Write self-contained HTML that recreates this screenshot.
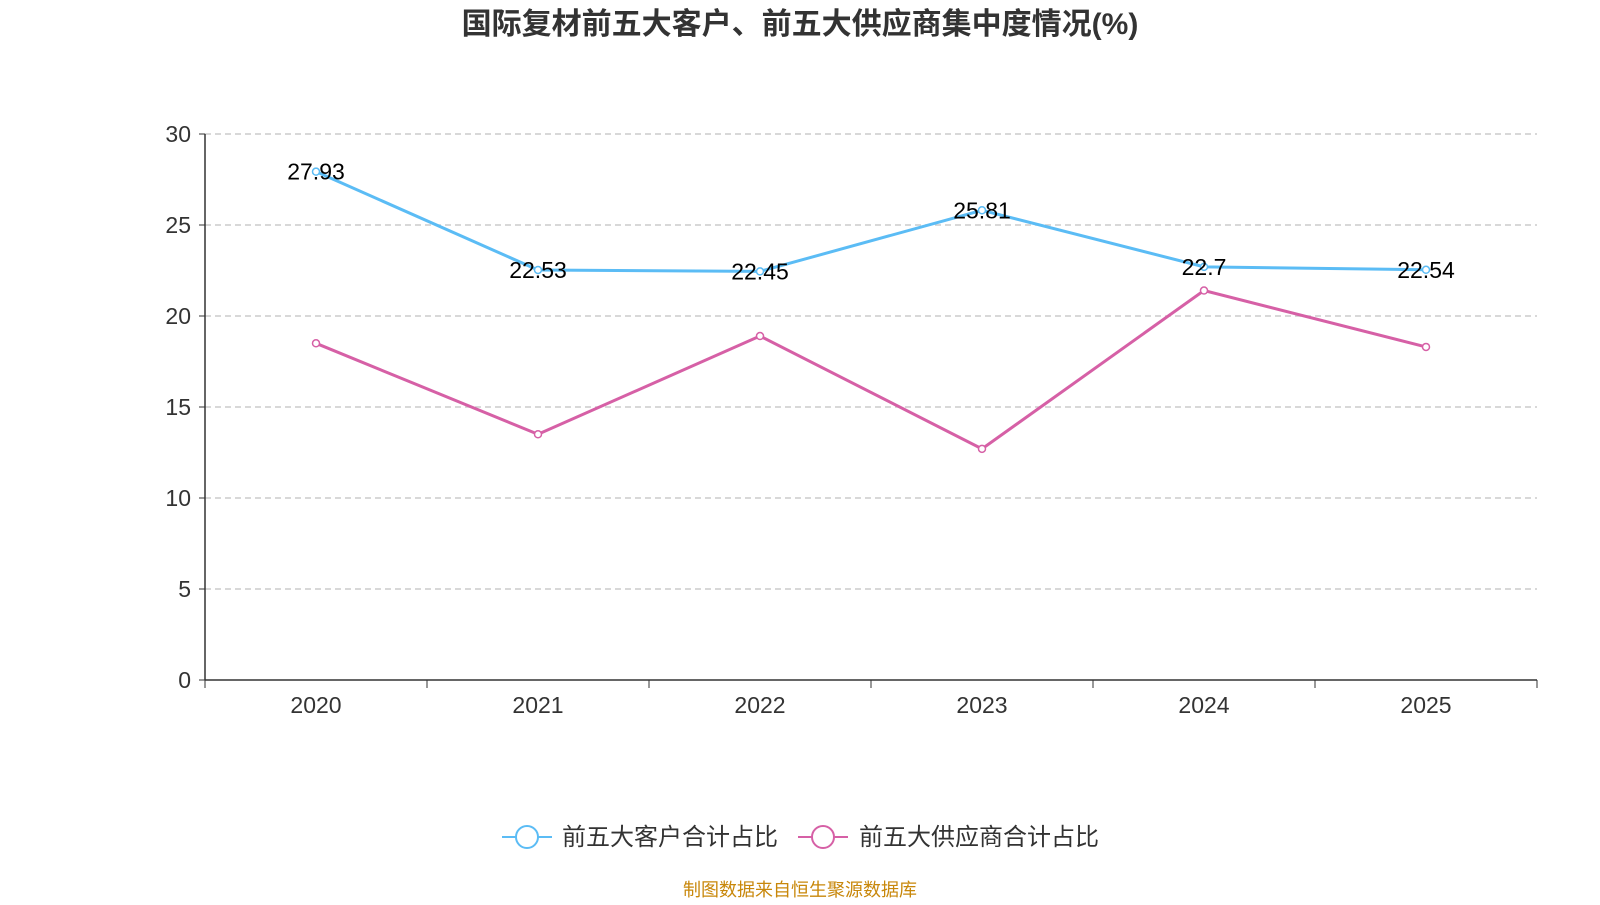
<!DOCTYPE html>
<html><head><meta charset="utf-8">
<style>
body{margin:0;background:#fff;width:1600px;height:900px;overflow:hidden;font-family:"Liberation Sans","Noto Sans CJK SC",sans-serif;}
</style></head>
<body>
<svg id="chart" width="1600" height="900" xmlns="http://www.w3.org/2000/svg">
<text x="800" y="34" text-anchor="middle" font-size="30" font-weight="bold" fill="#333" font-family="Liberation Sans, Noto Sans CJK SC, sans-serif">国际复材前五大客户、前五大供应商集中度情况(%)</text>
<g id="grid"></g><g id="axes"></g><g id="series"></g>
<g>
<g>
<line x1="502" y1="837" x2="552" y2="837" stroke="#5bbcf5" stroke-width="2"/>
<circle cx="527" cy="837" r="11" fill="#fff" stroke="#5bbcf5" stroke-width="2"/>
<text x="562" y="845" font-size="24" fill="#333">前五大客户合计占比</text></g>
<g>
<line x1="798" y1="837" x2="848" y2="837" stroke="#d660a6" stroke-width="2"/>
<circle cx="823" cy="837" r="11" fill="#fff" stroke="#d660a6" stroke-width="2"/>
<text x="859" y="845" font-size="24" fill="#333">前五大供应商合计占比</text></g>
</g>
<text x="800" y="896" text-anchor="middle" font-size="18" fill="#c8870a">制图数据来自恒生聚源数据库</text>
</svg>
<script>
const categories=["2020","2021","2022","2023","2024","2025"];
const customerValues=[27.93,22.53,22.45,25.81,22.7,22.54];
const supplierValues=[18.5,13.5,18.9,12.7,21.4,18.3];
const yTicks=[0,5,10,15,20,25,30];
const NS="http://www.w3.org/2000/svg";
const L=205,R=1537,T=134,B=680,yMax=30;
const band=(R-L)/categories.length;
const xs=i=>L+band*(i+0.5);
const ys=v=>B-(v/yMax)*(B-T);
function mk(tag,attrs,parent,txt){const e=document.createElementNS(NS,tag);for(const k in attrs)e.setAttribute(k,attrs[k]);if(txt!==undefined)e.textContent=txt;parent.appendChild(e);return e;}
const grid=document.getElementById('grid'),axes=document.getElementById('axes'),ser=document.getElementById('series');
yTicks.forEach(t=>{const y=ys(t);
if(t>0){const g=mk('line',{x1:L,x2:R,y1:y,y2:y,stroke:'#ccc','stroke-dasharray':'6,4','stroke-width':1.5},grid);

}
mk('line',{x1:L-6,x2:L,y1:y,y2:y,stroke:'#333'},axes);
const lb=mk('text',{x:L-14,y:y+8,'text-anchor':'end','font-size':23,fill:'#333'},axes,t);

});
const ya=mk('line',{x1:L,x2:L,y1:T,y2:B,stroke:'#333','stroke-width':1.5},axes);


const xa=mk('line',{x1:L,x2:R,y1:B,y2:B,stroke:'#333','stroke-width':1.5},axes);


for(let i=0;i<=categories.length;i++){mk('line',{x1:L+band*i,x2:L+band*i,y1:B,y2:B+8,stroke:'#333'},axes);}
categories.forEach((c,i)=>{const t=mk('text',{x:xs(i),y:B+33,'text-anchor':'middle','font-size':23,fill:'#333'},axes,c);

});
function drawSeries(vals,color,name,labels){
const p=mk('polyline',{points:vals.map((v,i)=>xs(i)+','+ys(v)).join(' '),fill:'none',stroke:color,'stroke-width':3},ser);


vals.forEach((v,i)=>{const c=mk('circle',{cx:xs(i),cy:ys(v),r:3.5,fill:'#fff',stroke:color,'stroke-width':1.5},ser);


if(labels){const t=mk('text',{x:xs(i),y:ys(v)+8,'text-anchor':'middle','font-size':23,fill:'#000'},ser,v);

}});}
drawSeries(supplierValues,'#d660a6','supplier',false);
drawSeries(customerValues,'#5bbcf5','customer',true);
</script>
</body></html>
